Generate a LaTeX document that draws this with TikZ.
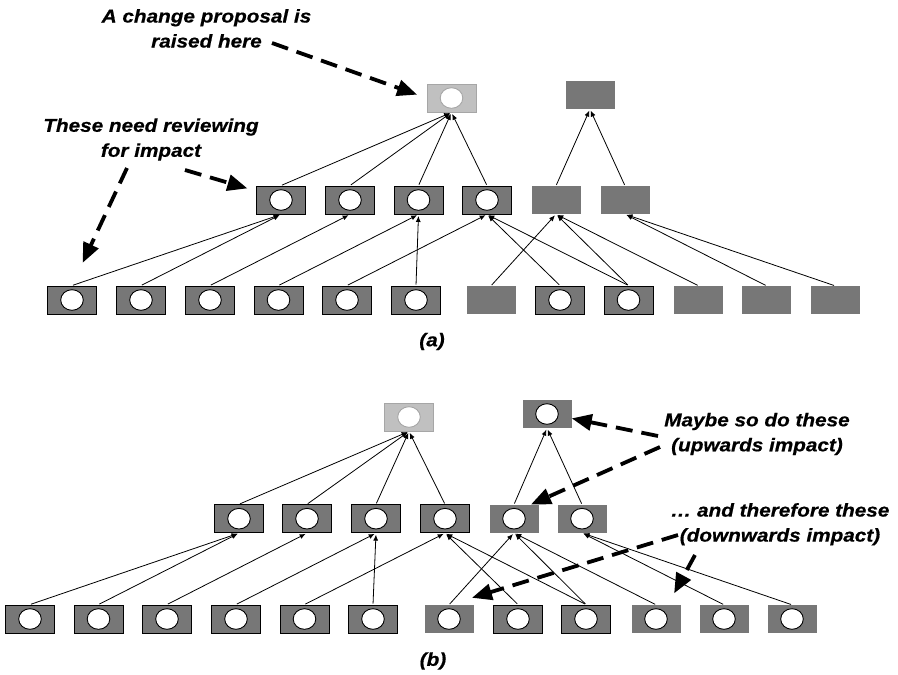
\documentclass[tikz,border=0pt]{standalone}
\usepackage{fontspec}
\setmainfont{Liberation Sans}[FakeStretch=1.12]
\usetikzlibrary{arrows.meta}
\definecolor{boxgray}{HTML}{777777}
\definecolor{palegray}{HTML}{C0C0C0}

\begin{document}
\begin{tikzpicture}[x=1pt, y=-1pt,
    unit/.style={rectangle, minimum width=49pt, minimum height=28pt, inner sep=0pt, fill=boxgray},
    edged/.style={unit, draw=black, line width=0.9pt},
    pale/.style={unit, fill=palegray, draw=black!35, line width=0.9pt},
    dot/.style={path picture={\draw[fill=white, line width=0.9pt] (path picture bounding box.center) ellipse (11.3pt and 10.3pt);}},
    link/.style={-{Latex[length=6pt,width=5pt]}, line width=0.8pt, shorten <=1pt, shorten >=1.5pt},
    hint/.style={-{Triangle[length=20pt,width=16pt]}, line width=3.8pt, dash pattern=on 17pt off 9pt},
    note/.style={font=\fontsize{18.5}{25}\selectfont\bfseries\itshape\addfontfeatures{FakeBold=0.6}, align=center, inner sep=0pt}
]
\useasboundingbox (0,0) rectangle (898,675);

% (a) the proposal only
\node[pale, dot] (ra1) at (451.5,98) {};
\node[unit] (ra2) at (590,95) {};
\node[edged, dot] (ma1) at (281,200) {};
\node[edged, dot] (ma2) at (350,200) {};
\node[edged, dot] (ma3) at (418.5,200) {};
\node[edged, dot] (ma4) at (487,200) {};
\node[unit] (ma5) at (556,200) {};
\node[unit] (ma6) at (625,200) {};
\node[edged, dot] (ba1) at (72,300) {};
\node[edged, dot] (ba2) at (141,300) {};
\node[edged, dot] (ba3) at (210,300) {};
\node[edged, dot] (ba4) at (278.5,300) {};
\node[edged, dot] (ba5) at (347,300) {};
\node[edged, dot] (ba6) at (416,300) {};
\node[unit] (ba7) at (491,300) {};
\node[edged, dot] (ba8) at (560,300) {};
\node[edged, dot] (ba9) at (628.5,300) {};
\node[unit] (ba10) at (698.5,300) {};
\node[unit] (ba11) at (766.5,300) {};
\node[unit] (ba12) at (835,300) {};

\draw[link] (ma1.north) -- (ra1.south);
\draw[link] (ma2.north) -- (ra1.south);
\draw[link] (ma3.north) -- (ra1.south);
\draw[link] (ma4.north) -- (ra1.south);
\draw[link] (ma5.north) -- (ra2.south);
\draw[link] (ma6.north) -- (ra2.south);
\draw[link] (ba1.north) -- (ma1.south);
\draw[link] (ba2.north) -- (ma1.south);
\draw[link] (ba3.north) -- (ma2.south);
\draw[link] (ba4.north) -- (ma3.south);
\draw[link] (ba5.north) -- (ma4.south);
\draw[link] (ba6.north) -- (ma3.south);
\draw[link] (ba7.north) -- (ma5.south);
\draw[link] (ba8.north) -- (ma4.south);
\draw[link] (ba9.north) -- (ma4.south);
\draw[link] (ba9.north) -- (ma5.south);
\draw[link] (ba10.north) -- (ma5.south);
\draw[link] (ba11.north) -- (ma6.south);
\draw[link] (ba12.north) -- (ma6.south);

\node[note] (raise) at (206.5,28.4) {A change proposal is\\raised here};
\node[note] (review) at (151,139.5) {These need reviewing\\for impact};
\node[note] (capa) at (432,341.5) {(a)};
\coordinate (raise-end) at (272,43);
\coordinate (review-end) at (185,170);
\coordinate (review-foot) at (127,168);
\draw[hint, shorten >=10pt] (raise-end) -- (ra1.west);
\draw[hint, shorten >=9pt] (review-end) -- (ma1.160);
\draw[hint, shorten >=25pt] (review-foot) -- (ba1.north);

% (b) the knock-on impact
\node[pale, dot] (rb1) at (409,417) {};
\node[unit, dot] (rb2) at (547,414) {};
\node[edged, dot] (mb1) at (239,518.7) {};
\node[edged, dot] (mb2) at (307,518.7) {};
\node[edged, dot] (mb3) at (376,518.7) {};
\node[edged, dot] (mb4) at (445,518.7) {};
\node[unit, dot] (mb5) at (514,518.7) {};
\node[unit, dot] (mb6) at (582,518.7) {};
\node[edged, dot] (bb1) at (30,619) {};
\node[edged, dot] (bb2) at (98.5,619) {};
\node[edged, dot] (bb3) at (167,619) {};
\node[edged, dot] (bb4) at (236,619) {};
\node[edged, dot] (bb5) at (304.5,619) {};
\node[edged, dot] (bb6) at (373,619) {};
\node[unit, dot] (bb7) at (449,619) {};
\node[edged, dot] (bb8) at (518,619) {};
\node[edged, dot] (bb9) at (586,619) {};
\node[unit, dot] (bb10) at (656,619) {};
\node[unit, dot] (bb11) at (724,619) {};
\node[unit, dot] (bb12) at (792,619) {};

\draw[link] (mb1.north) -- (rb1.south);
\draw[link] (mb2.north) -- (rb1.south);
\draw[link] (mb3.north) -- (rb1.south);
\draw[link] (mb4.north) -- (rb1.south);
\draw[link] (mb5.north) -- (rb2.south);
\draw[link] (mb6.north) -- (rb2.south);
\draw[link] (bb1.north) -- (mb1.south);
\draw[link] (bb2.north) -- (mb1.south);
\draw[link] (bb3.north) -- (mb2.south);
\draw[link] (bb4.north) -- (mb3.south);
\draw[link] (bb5.north) -- (mb4.south);
\draw[link] (bb6.north) -- (mb3.south);
\draw[link] (bb7.north) -- (mb5.south);
\draw[link] (bb8.north) -- (mb4.south);
\draw[link] (bb9.north) -- (mb4.south);
\draw[link] (bb9.north) -- (mb5.south);
\draw[link] (bb10.north) -- (mb5.south);
\draw[link] (bb11.north) -- (mb6.south);
\draw[link] (bb12.north) -- (mb6.south);

\node[note] (upward) at (757,434) {Maybe so do these\\(upwards impact)};
\node[note] (downward) at (780,524.3) {… and therefore these\\(downwards impact)};
\node[note] (capb) at (433,661) {(b)};
\coordinate (upward-top) at (658,436);
\coordinate (upward-low) at (660,447);
\coordinate (downward-left) at (678,535);
\coordinate (downward-foot) at (695,555);
\draw[hint] (upward-top) -- (rb2.-10);
\draw[hint] (upward-low) -- (mb5.40);
\draw[hint, shorten >=24pt] (downward-left) -- (bb7.north);
\draw[hint, shorten >=13pt] (downward-foot) -- (bb10.50);
\end{tikzpicture}
\end{document}
